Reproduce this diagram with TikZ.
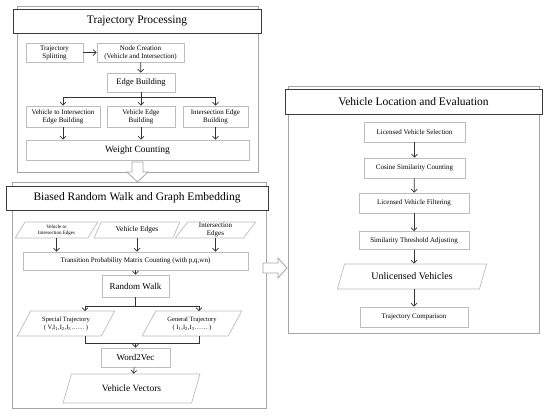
\documentclass[tikz,border=0pt]{standalone}
\usepackage{fontspec}
\setmainfont{Liberation Serif}
\usepackage{xcolor}
\definecolor{cFrame}{HTML}{A6A6A6}
\definecolor{cBox}{HTML}{BDBDBD}
\definecolor{cTitle}{HTML}{3A3A3A}
\definecolor{cLine}{HTML}{333333}
\usepackage{tikz}
\usetikzlibrary{positioning,arrows.meta,shapes.geometric,calc}
\tikzset{
  node-frame/.style={draw=cFrame,line width=0.9pt,inner sep=0pt},
  node-title/.style={draw=cTitle,line width=0.9pt,fill=white,inner sep=0pt,
    font=\fontsize{11.5}{13}\selectfont},
  node-box/.style={draw=cBox,line width=0.7pt,fill=white,inner sep=1pt,
    align=center,font=\fontsize{7}{8}\selectfont},
  node-para/.style={node-box,trapezium,trapezium stretches=true,
    trapezium left angle=64,trapezium right angle=116},
  arrow/.style={-{Straight Barb[length=3pt,width=6pt]},line width=0.7pt,draw=cLine},
  link/.style={line width=0.7pt,draw=cLine},
  hollow/.style={draw=cFrame,line width=0.8pt,fill=white},
}
\begin{document}
\begin{tikzpicture}[x=1pt,y=-1pt]
  \useasboundingbox (0,0) rectangle (550,416);
  % containers
  \node[node-frame,minimum width=241,minimum height=166] (f1) at (137.5,89) {};
  \node[node-frame,minimum width=254,minimum height=226] (f2) at (139,295) {};
  \node[node-frame,minimum width=251,minimum height=247] (f3) at (413.5,209.5) {};
  \node[node-title,minimum width=248,minimum height=24] (t1) at (137,21) {Trajectory Processing};
  \node[node-title,minimum width=262,minimum height=24] (t2) at (137,198) {Biased Random Walk and Graph Embedding};
  \node[node-title,minimum width=257,minimum height=25] (t3) at (413.5,101.5) {Vehicle Location and Evaluation};

  % trajectory processing
  \node[node-box,minimum width=57,minimum height=19] (split) at (54.5,52.5) {Trajectory\\Splitting};
  \node[node-box,minimum width=87,minimum height=19] (create) at (140.5,52.5) {Node Creation\\(Vehicle and Intersection)};
  \node[node-box,minimum width=68,minimum height=19,font=\fontsize{8.5}{10}\selectfont] (edge) at (141,82.5) {Edge Building};
  \node[node-box,minimum width=74,minimum height=21] (vieb) at (63,116.5) {Vehicle to Intersection\\Edge Building};
  \node[node-box,minimum width=68,minimum height=21] (veb) at (141,116.5) {Vehicle Edge\\Building};
  \node[node-box,minimum width=65,minimum height=21] (ieb) at (215.5,116.5) {Intersection Edge\\Building};
  \node[node-box,minimum width=223,minimum height=20,font=\fontsize{9.5}{11}\selectfont] (weight) at (137.5,150) {Weight Counting};
  \coordinate (br1) at (141,97);
  \draw[arrow] (split) -- (create);
  \draw[arrow] (create) -- (edge);
  \draw[link] (edge.south) -- (br1);
  \draw[arrow] (br1) -| (vieb.north);
  \draw[arrow] (br1) -| (ieb.north);
  \draw[arrow] (br1) -- (veb.north);
  \draw[arrow] (vieb.south) -- (vieb.south |- weight.north);
  \draw[arrow] (veb.south) -- (veb.south |- weight.north);
  \draw[arrow] (ieb.south) -- (ieb.south |- weight.north);
  \draw[hollow] (132,162) -- (143,162) -- (143,172) -- (148,172) -- (137.5,182)
    -- (127,172) -- (132,172) -- cycle;

  % biased random walk and graph embedding
  \node[node-para,minimum width=83,minimum height=16,font=\fontsize{5}{6}\selectfont] (vie) at (56.5,230) {Vehicle to\\Intersection Edges};
  \node[node-para,minimum width=86,minimum height=16,font=\fontsize{7.5}{8.5}\selectfont] (ve) at (137,230) {Vehicle Edges};
  \node[node-para,minimum width=81,minimum height=16,font=\fontsize{7}{8}\selectfont] (ie) at (215.5,230) {Intersection\\Edges};
  \node[node-box,minimum width=225,minimum height=18] (trans) at (135.5,261) {Transition Probability Matrix Counting (with p,q,wn)};
  \node[node-box,minimum width=67,minimum height=22,font=\fontsize{9}{10}\selectfont] (walk) at (135.5,286) {Random Walk};
  \node[node-para,minimum width=98,minimum height=25,font=\fontsize{6.5}{8}\selectfont,
    trapezium left angle=59,trapezium right angle=121] (spec) at (66,323.5)
    {Special Trajectory\\( V,I\textsubscript{1},I\textsubscript{2},I\textsubscript{3}\ldots\ldots\ )};
  \node[node-para,minimum width=100,minimum height=25,font=\fontsize{6.5}{8}\selectfont,
    trapezium left angle=59,trapezium right angle=121] (gen) at (192,323.5)
    {General Trajectory\\( I\textsubscript{1},I\textsubscript{2},I\textsubscript{3}\ldots\ldots\ )};
  \node[node-box,minimum width=69,minimum height=19,font=\fontsize{9}{10}\selectfont] (w2v) at (135.5,357.5) {Word2Vec};
  \node[node-para,minimum width=137,minimum height=29,font=\fontsize{9.5}{11}\selectfont] (vec) at (131.5,388.5) {Vehicle Vectors};
  \coordinate (br2) at (135.5,306);
  \coordinate (mg) at (135.5,343);
  \draw[arrow] (vie.south) -- (vie.south |- trans.north);
  \draw[arrow] (ve.south) -- (ve.south |- trans.north);
  \draw[arrow] (ie.south) -- (ie.south |- trans.north);
  \draw[arrow] (trans) -- (walk);
  \draw[link] (walk.south) -- (br2);
  \draw[arrow] (br2) -| (85,311);
  \draw[arrow] (br2) -| (199,311);
  \draw[link] (85,336) |- (mg);
  \draw[link] (199,336) |- (mg);
  \draw[arrow] (mg) -- (w2v.north);
  \draw[arrow] (w2v) -- (vec);
  \draw[hollow] (263,263) -- (278,263) -- (278,258) -- (287,268) -- (278,278)
    -- (278,273) -- (263,273) -- cycle;

  % vehicle location and evaluation
  \node[node-box,minimum width=101,minimum height=20] (sel) at (414.5,132) {Licensed Vehicle Selection};
  \node[node-box,minimum width=101,minimum height=20] (cos) at (414.5,168) {Cosine Similarity Counting};
  \node[node-box,minimum width=110,minimum height=20] (filt) at (414,203) {Licensed Vehicle Filtering};
  \node[node-box,minimum width=110,minimum height=18] (sim) at (414,240.5) {Similarity Threshold Adjusting};
  \node[node-para,minimum width=150,minimum height=25,font=\fontsize{10}{12}\selectfont] (unl) at (412,276.5) {Unlicensed Vehicles};
  \node[node-box,minimum width=108,minimum height=20] (traj) at (414,317) {Trajectory Comparison};
  \draw[arrow] (sel) -- (cos);
  \draw[arrow] (cos) -- (filt);
  \draw[arrow] (filt) -- (sim);
  \draw[arrow] (sim.south) -- (sim.south |- unl.north);
  \draw[arrow] (unl.south -| traj.north) -- (traj.north);
\end{tikzpicture}
\end{document}
